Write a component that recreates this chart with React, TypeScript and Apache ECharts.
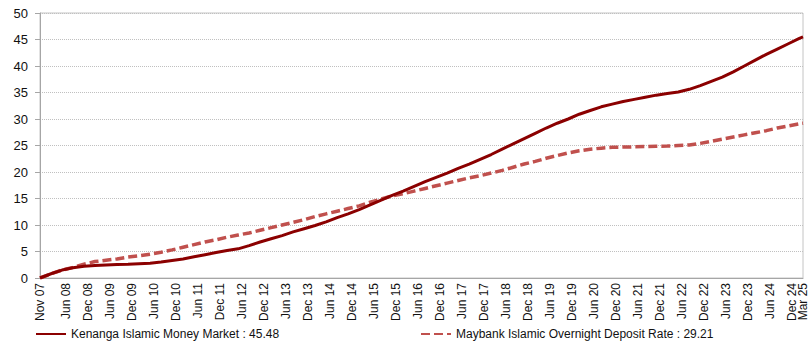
import React, { useEffect, useRef } from "react";
import * as echarts from "echarts";

// Axis tick labels shown on the category axis
const tickLabels = [
  "Nov 07", "Jun 08", "Dec 08", "Jun 09", "Dec 09", "Jun 10", "Dec 10", "Jun 11", "Dec 11",
  "Jun 12", "Dec 12", "Jun 13", "Dec 13", "Jun 14", "Dec 14", "Jun 15", "Dec 15", "Jun 16",
  "Dec 16", "Jun 17", "Dec 17", "Jun 18", "Dec 18", "Jun 19", "Dec 19", "Jun 20", "Dec 20",
  "Jun 21", "Dec 21", "Jun 22", "Dec 22", "Jun 23", "Dec 23", "Jun 24", "Dec 24", "Mar 25",
];

// Sampled dates (quarterly from Nov 07, plus last point Mar 25)
const sampleDates = [
  "Nov 07",
  "Feb 08", "May 08", "Aug 08", "Nov 08",
  "Feb 09", "May 09", "Aug 09", "Nov 09",
  "Feb 10", "May 10", "Aug 10", "Nov 10",
  "Feb 11", "May 11", "Aug 11", "Nov 11",
  "Feb 12", "May 12", "Aug 12", "Nov 12",
  "Feb 13", "May 13", "Aug 13", "Nov 13",
  "Feb 14", "May 14", "Aug 14", "Nov 14",
  "Feb 15", "May 15", "Aug 15", "Nov 15",
  "Feb 16", "May 16", "Aug 16", "Nov 16",
  "Feb 17", "May 17", "Aug 17", "Nov 17",
  "Feb 18", "May 18", "Aug 18", "Nov 18",
  "Feb 19", "May 19", "Aug 19", "Nov 19",
  "Feb 20", "May 20", "Aug 20", "Nov 20",
  "Feb 21", "May 21", "Aug 21", "Nov 21",
  "Feb 22", "May 22", "Aug 22", "Nov 22",
  "Feb 23", "May 23", "Aug 23", "Nov 23",
  "Feb 24", "May 24", "Aug 24", "Nov 24",
  "Feb 25", "Mar 25",
];

const kenanga = [
  0, 0.8, 1.5, 1.95, 2.2, 2.35, 2.45, 2.55, 2.6, 2.7, 2.8, 3.0, 3.3, 3.6, 4.0, 4.4, 4.8,
  5.2, 5.5, 6.1, 6.8, 7.4, 8.0, 8.7, 9.3, 9.9, 10.6, 11.4, 12.1, 12.9, 13.8, 14.7, 15.6,
  16.4, 17.3, 18.2, 19.0, 19.8, 20.7, 21.5, 22.4, 23.3, 24.3, 25.3, 26.3, 27.3, 28.3, 29.2,
  30.0, 30.9, 31.6, 32.3, 32.8, 33.3, 33.7, 34.1, 34.5, 34.8, 35.1, 35.6, 36.3, 37.1, 37.9,
  38.9, 40.0, 41.1, 42.2, 43.2, 44.2, 45.2, 45.48,
];

const maybank = [
  0, 0.8, 1.5, 2.0, 2.6, 3.1, 3.35, 3.6, 3.95, 4.2, 4.5, 4.85, 5.3, 5.8, 6.3, 6.8, 7.2,
  7.7, 8.1, 8.5, 9.0, 9.5, 10.0, 10.5, 11.0, 11.6, 12.1, 12.6, 13.1, 13.6, 14.3, 14.9, 15.5,
  15.9, 16.4, 16.9, 17.4, 17.9, 18.4, 18.9, 19.3, 19.8, 20.3, 20.9, 21.5, 22.0, 22.6, 23.1,
  23.6, 24.0, 24.3, 24.5, 24.65, 24.7, 24.75, 24.8, 24.85, 24.9, 25.0, 25.1, 25.4, 25.8, 26.2,
  26.6, 27.0, 27.4, 27.8, 28.3, 28.7, 29.1, 29.21,
];

const seriesNames = [
  "Kenanga Islamic Money Market : 45.48",
  "Maybank Islamic Overnight Deposit Rate : 29.21",
];

// Monthly category axis Nov 07 .. Mar 25
const MONTHS = ["Jan", "Feb", "Mar", "Apr", "May", "Jun", "Jul", "Aug", "Sep", "Oct", "Nov", "Dec"];
const monthCategories: string[] = [];
for (let y = 2007, m = 10; y < 2025 || (y === 2025 && m <= 2); ) {
  monthCategories.push(`${MONTHS[m]} ${String(y % 100).padStart(2, "0")}`);
  m++;
  if (m === 12) { m = 0; y++; }
}

export default function App() {
  const ref = useRef<HTMLDivElement>(null);
  useEffect(() => {
    if (!ref.current) return;
    const chart = echarts.init(ref.current, undefined, { renderer: "svg" });
    const tickSet = new Set(tickLabels);
    const legendBase = {
      top: 323,
      itemWidth: 30,
      itemHeight: 10,
      itemStyle: { opacity: 0 },
      textStyle: { fontFamily: "Liberation Sans, Arial", fontSize: 12, color: "#111" },
    };
    chart.setOption({
      animation: false,
      backgroundColor: "#ffffff",
      grid: {
        left: 40, right: 7, top: 13, bottom: 76,
        show: true, borderColor: "#c4c4c4", borderWidth: 1,
        backgroundColor: "transparent",
      },
      legend: [
        { ...legendBase, left: 30, data: [seriesNames[0]] },
        { ...legendBase, left: 415, data: [seriesNames[1]] },
      ],
      xAxis: {
        type: "category",
        data: monthCategories,
        boundaryGap: false,
        axisLine: { lineStyle: { color: "#a6a6a6" } },
        axisTick: { show: false },
        splitLine: { show: false },
        axisLabel: {
          interval: 0,
          formatter: (v: string) => (tickSet.has(v) ? v : ""),
          hideOverlap: false,
          rotate: 90,
          margin: 5,
          fontFamily: "Liberation Sans, Arial",
          fontSize: 12,
          color: "#111",
        },
      },
      yAxis: {
        type: "value",
        min: 0, max: 50, interval: 5,
        axisLine: { show: true, lineStyle: { color: "#a6a6a6" } },
        axisTick: { show: true, length: 5, lineStyle: { color: "#a6a6a6" } },
        splitLine: { lineStyle: { color: "#c0c0c0", type: "dotted" } },
        axisLabel: {
          margin: 12,
          fontFamily: "Liberation Sans, Arial",
          fontSize: 13,
          color: "#111",
        },
      },
      series: [
        {
          name: seriesNames[0],
          type: "line",
          symbol: "none",
          data: sampleDates.map((d, i) => [d, kenanga[i]]),
          lineStyle: { color: "#8b0000", width: 3 },
          itemStyle: { color: "#8b0000" },
          z: 3,
        },
        {
          name: seriesNames[1],
          type: "line",
          symbol: "none",
          data: sampleDates.map((d, i) => [d, maybank[i]]),
          lineStyle: { color: "#c0504d", width: 3.5, type: [9, 4] },
          itemStyle: { color: "#c0504d" },
          z: 2,
        },
      ],
    });
    return () => chart.dispose();
  }, []);
  return (
    <div
      ref={ref}
      style={{ position: "absolute", left: 0, top: 0, width: 810, height: 354, background: "#fff" }}
    />
  );
}
